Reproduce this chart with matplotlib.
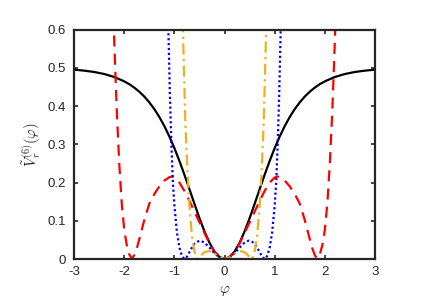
import numpy as np
import matplotlib
matplotlib.use("Agg")
import matplotlib.pyplot as plt

# Positive half of each (symmetric) curve
phi_black = [0.0, 0.1, 0.2, 0.3, 0.4, 0.5, 0.6, 0.7, 0.8, 0.9, 1.0, 1.1, 1.2, 1.3,
             1.4, 1.5, 1.6, 1.7, 1.8, 1.9, 2.0, 2.2, 2.4, 2.6, 2.8, 3.0]
v_black = [0.0, 0.005, 0.0195, 0.0424, 0.0722, 0.1068, 0.1442, 0.1826, 0.2204,
           0.2565, 0.2900, 0.3204, 0.3475, 0.3713, 0.3920, 0.4096, 0.4248, 0.4375,
           0.4482, 0.4572, 0.4646, 0.4760, 0.4838, 0.4891, 0.4926, 0.4951]

phi_red = [0.0, 0.1, 0.2, 0.3, 0.4, 0.5, 0.6, 0.7, 0.8, 0.9, 1.0, 1.05, 1.1, 1.2,
           1.3, 1.4, 1.5, 1.6, 1.7, 1.75, 1.8, 1.85, 1.9, 1.95, 2.0, 2.05, 2.1,
           2.15, 2.2, 2.25]
v_red = [0.0, 0.005, 0.019, 0.041, 0.068, 0.096, 0.124, 0.152, 0.178, 0.200, 0.213,
         0.216, 0.214, 0.205, 0.190, 0.170, 0.145, 0.102, 0.052, 0.028, 0.010, 0.001,
         0.012, 0.036, 0.076, 0.145, 0.250, 0.390, 0.570, 0.80]

phi_blue = [0.0, 0.1, 0.2, 0.3, 0.4, 0.48, 0.55, 0.6, 0.65, 0.7, 0.75, 0.8, 0.85,
            0.9, 0.95, 1.0, 1.03, 1.06, 1.09, 1.12, 1.15]
v_blue = [0.0, 0.004, 0.015, 0.030, 0.043, 0.048, 0.045, 0.040, 0.030, 0.018, 0.006,
          0.0, 0.008, 0.030, 0.070, 0.140, 0.200, 0.300, 0.430, 0.600, 0.780]

phi_orange = [0.0, 0.1, 0.2, 0.3, 0.4, 0.45, 0.5, 0.55, 0.6, 0.65, 0.7, 0.74, 0.78,
              0.81, 0.83, 0.86]
v_orange = [0.0, 0.004, 0.014, 0.021, 0.018, 0.012, 0.005, 0.0, 0.020, 0.060, 0.140,
            0.230, 0.350, 0.500, 0.600, 0.780]

xticks = [-3, -2, -1, 0, 1, 2, 3]
yticks = [0, 0.1, 0.2, 0.3, 0.4, 0.5, 0.6]


def mirror(p, v):
    p = np.asarray(p, float)
    v = np.asarray(v, float)
    return np.concatenate([-p[:0:-1], p]), np.concatenate([v[:0:-1], v])


plt.rcParams['font.family'] = ['Liberation Sans', 'DejaVu Sans']
plt.rcParams['mathtext.fontset'] = 'cm'

fig = plt.figure(figsize=(4.36, 3.08), dpi=100)
ax = fig.add_axes([0.170, 0.159, 0.690, 0.745])

gray = '#262626'
x, y = mirror(phi_black, v_black)
ax.plot(x, y, color='black', lw=1.6, solid_capstyle='round')
x, y = mirror(phi_red, v_red)
ax.plot(x, y, color='red', lw=1.6, linestyle=(0, (5, 3.2)))
x, y = mirror(phi_blue, v_blue)
ax.plot(x, y, color='blue', lw=1.6, linestyle=(0, (1, 1.2)))
x, y = mirror(phi_orange, v_orange)
ax.plot(x, y, color='#EDB120', lw=1.6, linestyle=(0, (5, 2, 1, 2)))

ax.set_xlim(-3, 3)
ax.set_ylim(0, 0.6)
ax.set_xticks(xticks)
ax.set_xticklabels([str(t) for t in xticks])
ax.set_yticks(yticks)
ax.set_yticklabels(['0'] + ['%.1f' % t for t in yticks[1:]])
ax.tick_params(direction='in', top=True, right=True, length=3, width=1.2,
               colors=gray, labelsize=9.5)
ax.tick_params(axis='x', pad=5)
ax.tick_params(axis='y', pad=6)
for s in ax.spines.values():
    s.set_linewidth(1.6)
    s.set_color(gray)

ax.set_xlabel(r'$\varphi$', color=gray, fontsize=11, labelpad=4)
ax.set_ylabel(r'$\tilde{V}_r^{(6)}(\varphi)$', color=gray, fontsize=10.5, labelpad=3)

fig.savefig('out.png', dpi=100)
